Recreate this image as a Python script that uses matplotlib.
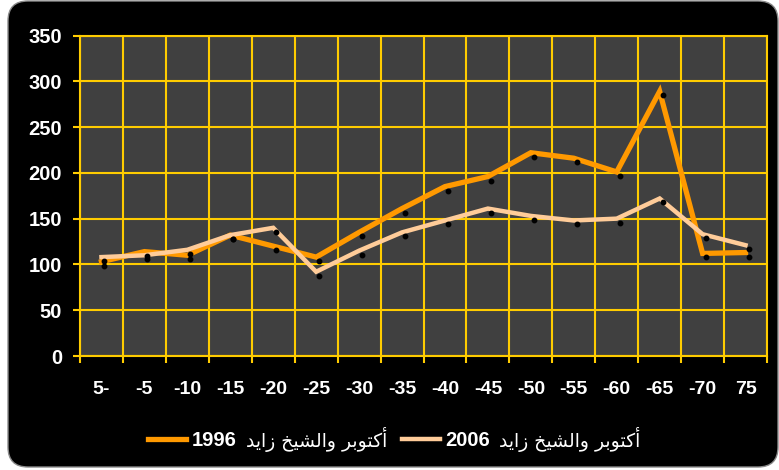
import matplotlib
matplotlib.use('Agg')
import matplotlib.pyplot as plt
import matplotlib.transforms as mtransforms
from matplotlib.patches import FancyBboxPatch
import numpy as np

plt.rcParams['font.family'] = ['Liberation Sans', 'DejaVu Sans']

# data
categories = ['5-', '-5', '-10', '-15', '-20', '-25', '-30', '-35', '-40',
              '-45', '-50', '-55', '-60', '-65', '-70', '75']
values_1996 = [103, 114, 110, 132, 120, 108, 135, 161, 185, 196, 222, 216, 201, 289, 112, 113]
values_2006 = [108, 110, 116, 132, 140, 92, 115, 135, 148, 161, 153, 148, 150, 172, 133, 121]
series_years = ['1996', '2006']
series_place = 'أكتوبر والشيخ زايد'

# presentation forms: isolated, final, initial, medial
FORMS = {
    'ا': ('\uFE8D', '\uFE8E', None, None),
    'أ': ('\uFE83', '\uFE84', None, None),
    'ب': ('\uFE8F', '\uFE90', '\uFE91', '\uFE92'),
    'ت': ('\uFE95', '\uFE96', '\uFE97', '\uFE98'),
    'خ': ('\uFEA5', '\uFEA6', '\uFEA7', '\uFEA8'),
    'د': ('\uFEA9', '\uFEAA', None, None),
    'ر': ('\uFEAD', '\uFEAE', None, None),
    'ز': ('\uFEAF', '\uFEB0', None, None),
    'ش': ('\uFEB5', '\uFEB6', '\uFEB7', '\uFEB8'),
    'ك': ('\uFED9', '\uFEDA', '\uFEDB', '\uFEDC'),
    'ل': ('\uFEDD', '\uFEDE', '\uFEDF', '\uFEE0'),
    'و': ('\uFEED', '\uFEEE', None, None),
    'ي': ('\uFEF1', '\uFEF2', '\uFEF3', '\uFEF4'),
}


def shape_word(word):
    out = []
    for i, ch in enumerate(word):
        if ch not in FORMS:
            out.append(ch)
            continue
        prev = word[i - 1] if i > 0 else None
        nxt = word[i + 1] if i < len(word) - 1 else None
        joins_prev = prev in FORMS and FORMS[prev][2] is not None
        joins_next = nxt in FORMS and FORMS[ch][2] is not None
        iso, fin, ini, med = FORMS[ch]
        if joins_prev and joins_next:
            out.append(med)
        elif joins_prev:
            out.append(fin)
        elif joins_next:
            out.append(ini)
        else:
            out.append(iso)
    return ''.join(out)


def rtl(text):
    # shape each word and lay the words out right to left
    words = text.split(' ')
    vis = []
    for w in reversed(words):
        if any(c in FORMS for c in w):
            vis.append(shape_word(w)[::-1])
        else:
            vis.append(w)
    return ' '.join(vis)


fig = plt.figure(figsize=(7.79, 4.70), dpi=100)
fig.patch.set_facecolor('white')

# rounded black backdrop
bg = fig.add_axes([0, 0, 1, 1])
bg.set_xlim(0, 779)
bg.set_ylim(470, 0)
bg.axis('off')
bg.add_patch(FancyBboxPatch((8, 1), 770, 466, boxstyle='round,pad=0,rounding_size=20',
                            facecolor='black', edgecolor='#8a8a8a', lw=1))

ax = fig.add_axes([80 / 779, 1 - 356 / 470, 687 / 779, 320.5 / 470])
ax.set_facecolor('#404040')

x = np.arange(len(categories))
grid_col = '#FFCC00'
colors = ['#FF9900', '#FFCC99']
widths = [3.8, 3.2]

h1, = ax.plot(x, values_1996, color=colors[0], lw=widths[0], solid_joinstyle='miter', zorder=3)
h2, = ax.plot(x, values_2006, color=colors[1], lw=widths[1], solid_joinstyle='miter', zorder=4)

# small shadow dots under each point
shift = mtransforms.ScaledTranslation(3 / 100, -4 / 100, fig.dpi_scale_trans)
for vals in (values_1996, values_2006):
    ax.plot(x, vals, 'o', color='black', ms=3.2, zorder=5,
            transform=ax.transData + shift)

ax.set_xlim(-0.5, len(categories) - 0.5)
ax.set_ylim(0, 350)
ax.set_yticks(np.arange(0, 351, 50))
ax.set_xticks(x)
ax.set_xticklabels(categories)
ax.set_xticks(np.arange(-0.5, len(categories), 1), minor=True)

ax.grid(True, axis='y', which='major', color=grid_col, lw=1.5)
ax.grid(True, axis='x', which='minor', color=grid_col, lw=1.5)
ax.set_axisbelow(True)
for sp in ax.spines.values():
    sp.set_color(grid_col)
    sp.set_linewidth(1.5)

ax.tick_params(axis='y', colors=grid_col, length=5, width=1.5, pad=8,
               labelcolor='white', labelsize=14.5)
ax.tick_params(axis='x', which='major', length=0, pad=18,
               labelcolor='white', labelsize=14)
ax.tick_params(axis='x', which='minor', colors=grid_col, length=5, width=1.5)
for lab in ax.get_xticklabels() + ax.get_yticklabels():
    lab.set_fontweight('bold')

# legend: bold years, the arabic place name added after in regular weight
leg = fig.legend([h1, h2], series_years, loc='center left',
                 bbox_to_anchor=(148 / 779, 1 - 441 / 470), ncol=2, frameon=False,
                 prop={'size': 14.5, 'weight': 'bold'}, labelcolor='white',
                 handlelength=1.89, handletextpad=0.28, columnspacing=8.2,
                 borderpad=0, borderaxespad=0)
fig.canvas.draw()
for t in leg.get_texts():
    bb = t.get_window_extent()
    fig.text((bb.x1 + 9) / 779, (bb.y0 + bb.y1) / 2 / 470 + 1 / 470, rtl(series_place),
             color='white', fontsize=13.5, family='DejaVu Sans',
             ha='left', va='center')

fig.savefig('out.png', dpi=100, facecolor=fig.get_facecolor())
